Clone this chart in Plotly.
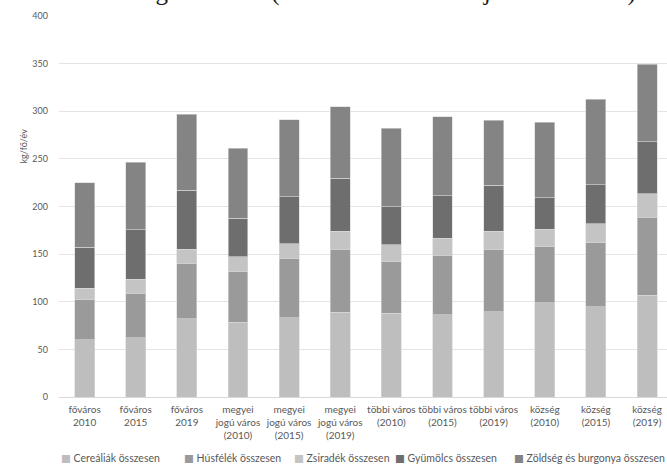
import plotly.graph_objects as go

# Categories: settlement type and year
categories = [
    "főváros<br>2010", "főváros<br>2015", "főváros<br>2019",
    "megyei<br>jogú város<br>(2010)", "megyei<br>jogú város<br>(2015)", "megyei<br>jogú város<br>(2019)",
    "többi város<br>(2010)", "többi város<br>(2015)", "többi város<br>(2019)",
    "község<br>(2010)", "község<br>(2015)", "község<br>(2019)",
]

# Consumption per capita per year (kg/fő/év), one list per food group
cerealiak = [60, 62, 82, 78.5, 83, 89, 88, 86.5, 89.5, 99, 95, 107]
husfelek = [42, 47, 58, 53, 62, 66, 54, 62.5, 65, 58.5, 67, 81.5]
zsiradek = [12, 14.5, 15, 16, 16, 19, 18, 17.5, 19.5, 18.5, 20, 25]
gyumolcs = [43, 52, 62, 40, 49, 55.5, 40, 45, 48.5, 33, 41, 54.5]
zoldseg = [68, 71, 80, 73.5, 81, 75, 82, 82.5, 68, 79.5, 89.5, 81.5]

series_names = ["Cereáliák összesen", "Húsfélék összesen", "Zsiradék összesen",
                "Gyümölcs összesen", "Zöldség és burgonya összesen"]
series_values = [cerealiak, husfelek, zsiradek, gyumolcs, zoldseg]
series_colors = ["#bebebe", "#9a9a9a", "#c4c4c4", "#6e6e6e", "#848484"]

PLOT_LEFT, PLOT_W, PLOT_TOP, PLOT_H = 59, 608, 16, 381

fig = go.Figure()
for name, values, color in zip(series_names, series_values, series_colors):
    fig.add_trace(go.Bar(
        x=categories, y=values, name=name,
        marker=dict(color=color, line=dict(color="#d8d8d8", width=0.6)),
    ))

fig.update_layout(
    barmode="stack",
    bargap=0.61,
    width=667, height=465,
    margin=dict(l=PLOT_LEFT, r=667 - PLOT_LEFT - PLOT_W, t=PLOT_TOP,
                b=465 - PLOT_TOP - PLOT_H),
    paper_bgcolor="white", plot_bgcolor="white",
    font=dict(family="Lato, sans-serif", color="#595959", size=10),
    showlegend=False,
    xaxis=dict(
        type="category", range=[-0.5, 11.39], showgrid=False,
        tickfont=dict(size=10, color="#595959"), ticks="", tickangle=0,
        ticklabelstandoff=3,
        showline=True, linecolor="#d9d9d9", linewidth=1,
    ),
    yaxis=dict(
        range=[0, 400], dtick=50, showgrid=True, gridcolor="#e4e4e4",
        gridwidth=1, zeroline=False, ticks="", ticklabelstandoff=10,
        tickfont=dict(size=9, color="#595959"),
    ),
)

# Legend row below the category labels: small square swatch + label
legend_x_px = [59, 182, 292, 393, 512]
legend_y = (PLOT_TOP + PLOT_H - 458) / PLOT_H
for name, color, px in zip(series_names, series_colors, legend_x_px):
    fig.add_annotation(
        text=f"<span style='color:{color};font-family:DejaVu Sans'>■</span> {name}",
        xref="paper", yref="paper", x=(px - PLOT_LEFT) / PLOT_W, y=legend_y,
        xanchor="left", yanchor="middle", showarrow=False,
        font=dict(size=10.5, color="#595959"),
    )

# Rotated y-axis title
fig.add_annotation(
    text="kg/fő/év", xref="paper", yref="paper",
    x=(15 - PLOT_LEFT) / PLOT_W, y=(PLOT_TOP + PLOT_H - 146) / PLOT_H,
    textangle=-90, showarrow=False,
    font=dict(size=9, color="#595959"),
)

# Caption line running along the top edge
fig.add_annotation(
    text="szerinti megosztásban (Adatforrás: KSH: saját szerkesztés)",
    xref="paper", yref="paper", x=(340 - PLOT_LEFT) / PLOT_W,
    y=(PLOT_TOP + PLOT_H + 8) / PLOT_H,
    xanchor="center", yanchor="middle", showarrow=False,
    font=dict(family="Liberation Serif, serif", size=25, color="#1a1a1a"),
)

fig.write_html("out.html")
